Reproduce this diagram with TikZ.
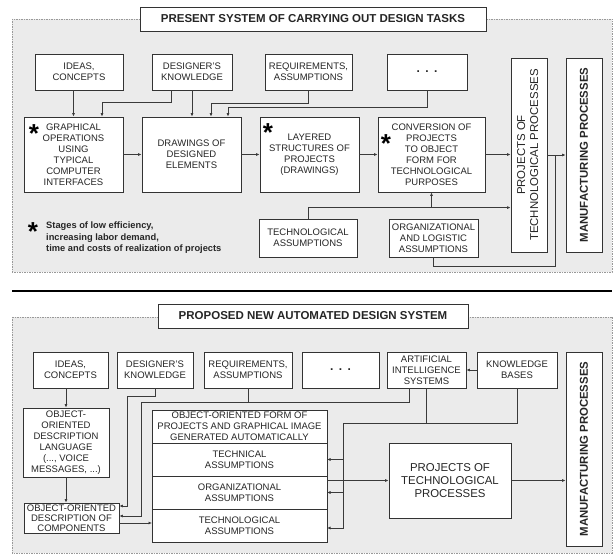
\documentclass[tikz,border=0pt]{standalone}
\usepackage{fontspec}
\setmainfont{Liberation Sans}
\usepackage{graphicx}
\usetikzlibrary{arrows.meta,positioning}
\definecolor{panelc}{HTML}{EBEBEB}
\definecolor{boxc}{HTML}{333333}
\definecolor{linec}{HTML}{3A3A3A}
\definecolor{textc}{HTML}{262626}
\newcommand\fs{\fontsize{9.5}{11}\selectfont}
\newcommand\fb{\fontsize{11.4}{13}\selectfont}
\begin{document}
\begin{tikzpicture}
  [x=1pt, y=-1pt,
    box/.style={
      draw=boxc, fill=white, line width=0.8pt, align=center,
      inner sep=1pt, font=\fs, text=textc
    },
    small/.style={box, minimum height=36pt},
    stage/.style={box, minimum height=75pt},
    tall/.style={box, minimum width=36pt, minimum height=194pt},
    stackbox/.style={box, minimum width=175pt, minimum height=33pt, outer sep=0pt},
    titlebox/.style={box, font=\fontsize{11.5}{13}\selectfont\bfseries, minimum height=24pt},
    panel/.style={draw=gray!80, dash pattern=on 1.5pt off 1pt, fill=panelc, line width=0.5pt},
    conn/.style={draw=linec, line width=0.7pt},
    arr/.style={conn, -{Latex[length=3.5pt,width=3pt]}},
    starsym/.style={inner sep=0pt, anchor=base, font=\fontsize{26}{26}\selectfont\bfseries, text=black},
  ]
  \useasboundingbox (0,0) rectangle (614,556);

  % Present system
  \draw[panel] (12,19) rectangle (612,272);
  \node[titlebox, minimum width=346pt] (title1) at (313,19) {PRESENT SYSTEM OF CARRYING OUT DESIGN TASKS};

  \node[small, minimum width=88pt] (ideas1) at (79,72) {IDEAS,\\CONCEPTS};
  \node[small, minimum width=80pt] (know1) at (192,72) {DESIGNER'S\\KNOWLEDGE};
  \node[small, minimum width=87pt] (req1) at (308.5,72) {REQUIREMENTS,\\ASSUMPTIONS};
  \node[small, minimum width=80pt] (dots1) at (427,72) {\fontsize{12}{12}\bfseries .\hspace{5.5pt}.\hspace{5.5pt}.};

  \node[stage, minimum width=99pt] (graph) at (73.5,154.5) {GRAPHICAL\\OPERATIONS\\USING\\TYPICAL\\COMPUTER\\INTERFACES};
  \node[stage, minimum width=99pt] (drawing) at (191.5,154.5) {DRAWINGS OF\\DESIGNED\\ELEMENTS};
  \node[stage, minimum width=99pt] (layer) at (309.5,154.5) {LAYERED\\STRUCTURES OF\\PROJECTS\\(DRAWINGS)};
  \node[stage, minimum width=107pt] (conv) at (431.5,154.5) {CONVERSION OF\\PROJECTS\\TO OBJECT\\FORM FOR\\TECHNOLOGICAL\\PURPOSES};

  \node[tall] (proj1) at (529,155) {\rotatebox{90}{\fb\begin{tabular}{@{}c@{}}PROJECTS OF\\TECHNOLOGICAL PROCESSES\end{tabular}}};
  \node[tall] (manuf1) at (584,155) {\rotatebox{90}{\fb\bfseries MANUFACTURING PROCESSES}};

  \node[box, minimum width=98pt, minimum height=38pt] (techas) at (308,238) {TECHNOLOGICAL\\ASSUMPTIONS};
  \node[box, minimum width=89pt, minimum height=38pt] (orgas) at (433.5,238) {ORGANIZATIONAL\\AND LOGISTIC\\ASSUMPTIONS};

  % Stars and legend
  \node[starsym] (star1) at (34,143) {*};
  \node[starsym] (star2) at (268,142) {*};
  \node[starsym] (star3) at (386,153) {*};
  \node[starsym] (star4) at (33,241) {*};
  \node[anchor=north west, align=left, inner sep=0pt, text=textc,
    font=\fontsize{9.3}{11.2}\selectfont\bfseries] (legend) at (46,222)
    {Stages of low efficiency,\\increasing labor demand,\\time and costs of realization of projects};

  % Connections
  \draw[arr] (graph.north |- ideas1.south) -- (graph.north);
  \draw[arr] ([xshift=-21pt]know1.south) -- ++(0,12) -| ([xshift=28.5pt]graph.north);
  \draw[arr] (know1.south) -- (know1.south |- drawing.north);
  \draw[arr] (req1.south) -- ++(0,12.5) -| ([xshift=19.5pt]drawing.north);
  \draw[arr] (dots1.south) -- ++(0,17) -| ([xshift=36.5pt]drawing.north);
  \draw[arr] (graph) -- (drawing);
  \draw[arr] (drawing) -- (layer);
  \draw[arr] (layer) -- (conv);
  \draw[arr] (conv) -- (conv -| proj1.west);
  \draw[arr] (proj1) -- (manuf1);
  \coordinate (j1) at (555,155);
  \draw[conn] (orgas.south) -- ++(0,9) -| (j1);
  \draw[arr] (techas.north) -- ++(0,-11) coordinate (t1) -- (t1 -| proj1.west);
  \draw[arr] (conv.south |- t1) -- (conv.south);

  \draw[line width=1.6pt, black] (12,291) -- (612,291);

  % Proposed system
  \draw[panel] (12,317) rectangle (612,553);
  \node[titlebox, minimum width=310pt] (title2) at (313,316) {PROPOSED NEW AUTOMATED DESIGN SYSTEM};

  \node[small, minimum width=75pt] (ideas2) at (70.5,370) {IDEAS,\\CONCEPTS};
  \node[small, minimum width=76pt] (know2) at (155,370) {DESIGNER'S\\KNOWLEDGE};
  \node[small, minimum width=88pt] (req2) at (248,370) {REQUIREMENTS,\\ASSUMPTIONS};
  \node[small, minimum width=77pt] (dots2) at (340.5,370) {\fontsize{12}{12}\bfseries .\hspace{5.5pt}.\hspace{5.5pt}.};
  \node[small, minimum width=79pt] (ai) at (426.5,370) {ARTIFICIAL\\INTELLIGENCE\\SYSTEMS};
  \node[small, minimum width=80pt] (kb) at (517,370) {KNOWLEDGE\\BASES};
  \node[tall] (manuf2) at (584,449) {\rotatebox{90}{\fb\bfseries MANUFACTURING PROCESSES}};

  \node[box, minimum width=86pt, minimum height=69pt] (oodl) at (66,442.5) {OBJECT-\\ORIENTED\\DESCRIPTION\\LANGUAGE\\(..., VOICE\\MESSAGES, ...)};
  \node[box, minimum width=95pt, minimum height=30pt, inner sep=0.5pt,
    font=\fontsize{9.5}{10}\selectfont] (oodc) at (71.5,518) {OBJECT-ORIENTED\\DESCRIPTION OF\\COMPONENTS};

  \node[stackbox] (sform) at (239.5,426.5) {OBJECT-ORIENTED FORM OF\\PROJECTS AND GRAPHICAL IMAGE\\GENERATED AUTOMATICALLY};
  \node[stackbox, below=0pt of sform] (stech) {TECHNICAL\\ASSUMPTIONS};
  \node[stackbox, below=0pt of stech] (sorg) {ORGANIZATIONAL\\ASSUMPTIONS};
  \node[stackbox, below=0pt of sorg] (stechn) {TECHNOLOGICAL\\ASSUMPTIONS};

  \node[box, minimum width=122pt, minimum height=75pt, font=\fb] (projb) at (450,480.5) {PROJECTS OF\\TECHNOLOGICAL\\PROCESSES};

  % Connections
  \draw[arr] (oodl.north |- ideas2.south) -- (oodl.north);
  \draw[arr] (oodl.south) -- (oodl.south |- oodc.north);
  \draw[arr] (know2.south) -- ++(0,8) -| ([xshift=8pt,yshift=12pt]oodc.east) -- ([yshift=12pt]oodc.east);
  \draw[arr] ([xshift=-17.5pt]ai.south) -- ++(0,14) -| ([xshift=22pt,yshift=2pt]oodc.east) -- ([yshift=2pt]oodc.east);
  \draw[conn] (req2.south) -- ++(0,14);
  \draw[arr] (kb) -- (ai);
  \draw[conn] (ai.south) -- ++(0,35) coordinate (c1);
  \draw[conn] (kb.south) |- (c1);
  \draw[arr] (c1) -| ([xshift=16pt,yshift=-2.5pt]stechn.east) -- ([yshift=-2.5pt]stechn.east);
  \draw[arr] ([xshift=16pt]stech.east) -- (stech.east);
  \draw[arr] ([xshift=16pt]sorg.east) -- (sorg.east);
  \draw[arr] ([yshift=-5pt]oodc.east) -- ([yshift=-5pt]oodc.east -| stechn.west);
  \draw[arr] (sorg.east |- projb.west) -- (projb.west);
  \draw[arr] (projb.east) -- (projb.east -| manuf2.west);
\end{tikzpicture}
\end{document}
